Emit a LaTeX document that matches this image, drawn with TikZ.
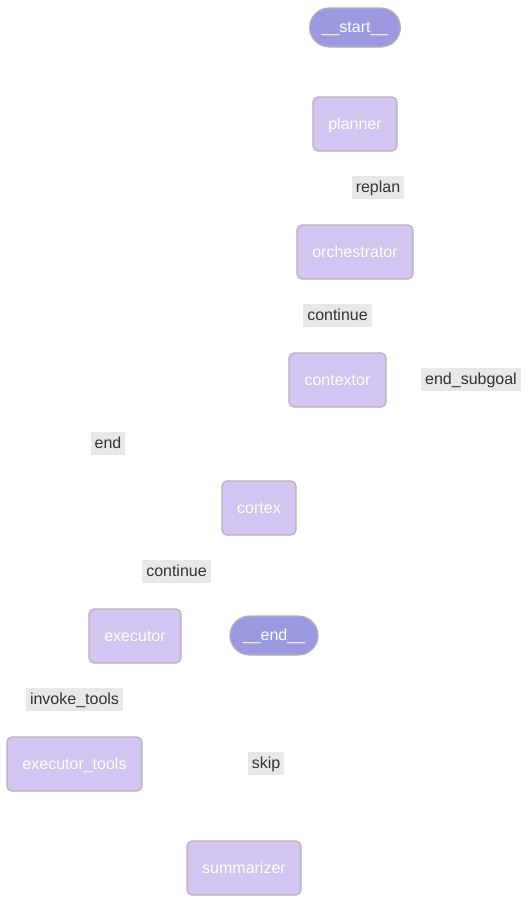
\documentclass[tikz,border=0pt]{standalone}
\usepackage{fontspec}
\setmainfont{Liberation Sans}
\definecolor{nodefill}{HTML}{D1C6F2}
\definecolor{termfill}{HTML}{9D99E1}
\definecolor{nodeborder}{HTML}{B3B3B3}
\definecolor{labelfill}{HTML}{E8E8E8}
\definecolor{labeltext}{HTML}{333333}
\begin{document}
\begin{tikzpicture}[x=1pt,y=-1pt,
  every node/.style={font=\fontsize{16}{19}\selectfont,text height=13.5pt,text depth=3pt},
  box/.style={draw=nodeborder,line width=1.2pt,fill=nodefill,text=white,rounded corners=5pt,minimum height=54pt,inner xsep=15pt},
  term/.style={draw=nodeborder,line width=1.2pt,fill=termfill,text=white,rounded corners=19.5pt,minimum height=39pt,inner xsep=12pt},
  elabel/.style={fill=labelfill,text=labeltext,minimum height=23pt,inner xsep=4pt,inner ysep=0pt}]
\useasboundingbox (0,0) rectangle (529,903);
\node[term] (start) at (355,27.5) {\_\_start\_\_};
\node[box,minimum width=84pt] (planner) at (355,124) {planner};
\node[elabel] (replan) at (378,187.5) {replan};
\node[box,minimum width=116pt] (orch) at (355,252) {orchestrator};
\node[elabel] (cont1) at (337.5,315.5) {continue};
\node[box,minimum width=97pt] (contextor) at (337.5,380) {contextor};
\node[elabel] (endsub) at (471,379.5) {end\_subgoal};
\node[elabel] (endl) at (108,443.5) {end};
\node[box,minimum width=74pt] (cortex) at (259,508) {cortex};
\node[elabel] (cont2) at (176.5,571.5) {continue};
\node[box,minimum width=92pt] (executor) at (135,636) {executor};
\node[term,minimum width=88pt] (endn) at (274,635.5) {\_\_end\_\_};
\node[elabel] (invoke) at (74.5,699.5) {invoke\_tools};
\node[box,minimum width=135pt] (extools) at (74.5,764) {executor\_tools};
\node[elabel] (skip) at (266,763.5) {skip};
\node[box,minimum width=114pt] (summ) at (244,868) {summarizer};
\end{tikzpicture}
\end{document}
